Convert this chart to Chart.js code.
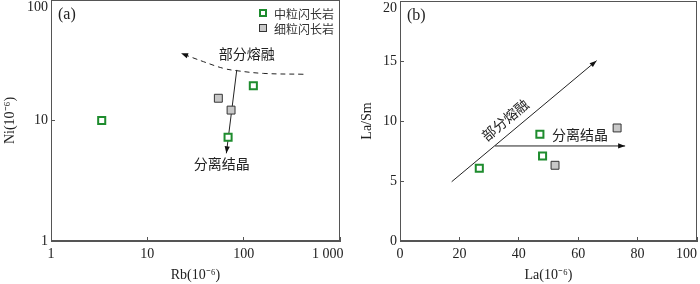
<!DOCTYPE html>
<html><head><meta charset="utf-8">
<script src="https://cdn.jsdelivr.net/npm/chart.js@4"></script>
<style>
html,body{margin:0;padding:0;background:#fff;}
#wrap{position:relative;width:700px;height:284px;overflow:hidden;background:#fff;}
canvas{position:absolute;top:0;}
#a{left:0;} #b{left:350px;}
.leg{position:absolute;left:259px;height:14px;display:flex;align-items:center;font:12px "Noto Sans CJK SC";color:#333;white-space:nowrap;}
.sw{width:8px;height:8px;box-sizing:border-box;margin-right:7px;}
</style></head>
<body>
<div id="wrap">
<canvas id="a" width="350" height="284"></canvas>
<canvas id="b" width="350" height="284"></canvas>
<div class="leg" style="top:6px"><div class="sw" style="border:2px solid #1e8c2e;background:#fff"></div>中粒闪长岩</div>
<div class="leg" style="top:21px"><div class="sw" style="border:1px solid #333;background:#c8c8c8"></div>细粒闪长岩</div>
</div>
<script>
// ---------- data ----------
const seriesNames = ['中粒闪长岩', '细粒闪长岩'];
// panel (a): Rb vs Ni (log-log)
const rbMedium = [3.36, 126, 68.9];
const niMedium = [10, 19.4, 7.26];
const rbFine = [54.6, 74];
const niFine = [15.3, 12.2];
const rbTicks = [1, 10, 100, 1000];
const rbTickLabels = ['1', '10', '100', '1 000'];
const niTicks = [1, 10, 100];
const niTickLabels = ['1', '10', '100'];
const pmCurveRb = [417, 160, 84.8, 61.5, 38.2, 22.4];
const pmCurveNi = [24.2, 24.6, 25.9, 27.1, 30.8, 36.1];
const fcLineRb = [84.8, 66.1];
const fcLineNi = [26.3, 5.34];
const textsA = ['部分熔融', '分离结晶'];
const textsARb = [107.7, 59.3];
const textsANi = [35.6, 4.41];
// panel (b): La vs La/Sm
const laMedium = [26.7, 47.1, 48.0];
const lasmMedium = [6.06, 8.89, 7.08];
const laFine = [52.2, 73.1];
const lasmFine = [6.31, 9.42];
const laTicks = [0, 20, 40, 60, 80, 100];
const lasmTicks = [0, 5, 10, 15, 20];
const pmLineLa = [17.4, 66.2];
const pmLineLaSm = [4.94, 15.03];
const fcLineLa = [32, 75.8];
const fcLineLaSm = [7.92, 7.92];
const textsB = ['部分熔融', '分离结晶'];
const textsBLa = [35.4, 60.6];
const textsBLaSm = [10.08, 8.83];

// ---------- helpers ----------
const pts = (xs, ys) => xs.map((x, i) => ({x, y: ys[i]}));
const SERIF = 'Liberation Serif';
const CJK = '"Noto Sans CJK SC"';
const AX = '#555';
const GREEN = '#1e8c2e';

function medium(xs, ys) {
  return {label: seriesNames[0], data: pts(xs, ys), pointStyle: 'rect', pointRadius: 5,
    pointBorderWidth: 2, borderColor: GREEN, backgroundColor: '#fff', showLine: false, order: 0};
}
function fine(xs, ys) {
  return {label: seriesNames[1], data: pts(xs, ys), pointStyle: 'rect', pointRadius: 5.6,
    pointBorderWidth: 1, borderColor: '#333', backgroundColor: '#c8c8c8', showLine: false, order: 0};
}
function trend(xs, ys, dashed, tension) {
  return {label: 'trend', data: pts(xs, ys), showLine: true, pointRadius: 0, borderColor: '#222',
    borderWidth: 1, borderDash: dashed ? [5, 4] : [], tension: tension || 0, arrow: true, order: 1, fill: false};
}

function overlay(panel, texts, xs, ys, rotateWith) {
  return {
    id: 'overlay' + panel,
    beforeDatasetsDraw(chart) {
      const {ctx, chartArea: a} = chart;
      ctx.save();
      ctx.strokeStyle = AX; ctx.lineWidth = 1;
      ctx.strokeRect(Math.round(a.left) + 0.5, Math.round(a.top) + 0.5,
        Math.round(a.right - a.left) - 1, Math.round(a.bottom - a.top) - 1);
      ctx.restore();
    },
    afterDatasetsDraw(chart) {
      const {ctx, chartArea: a, scales} = chart;
      ctx.save();
      // arrowheads
      chart.data.datasets.forEach((ds, i) => {
        if (!ds.arrow) return;
        const d = chart.getDatasetMeta(i).data;
        const p1 = d[d.length - 2], p2 = d[d.length - 1];
        const ang = Math.atan2(p2.y - p1.y, p2.x - p1.x);
        const L = 7, W = 2.6;
        ctx.fillStyle = '#111';
        ctx.beginPath();
        ctx.moveTo(p2.x, p2.y);
        ctx.lineTo(p2.x - L * Math.cos(ang) + W * Math.sin(ang), p2.y - L * Math.sin(ang) - W * Math.cos(ang));
        ctx.lineTo(p2.x - L * Math.cos(ang) - W * Math.sin(ang), p2.y - L * Math.sin(ang) + W * Math.cos(ang));
        ctx.closePath(); ctx.fill();
      });
      // text annotations
      ctx.fillStyle = '#222';
      ctx.font = '14px ' + CJK;
      ctx.textAlign = 'center'; ctx.textBaseline = 'middle';
      texts.forEach((t, i) => {
        const x = scales.x.getPixelForValue(xs[i]), y = scales.y.getPixelForValue(ys[i]);
        ctx.save();
        ctx.translate(x, y);
        if (rotateWith !== undefined && i === 0) {
          const d = chart.getDatasetMeta(rotateWith).data;
          ctx.rotate(Math.atan2(d[1].y - d[0].y, d[1].x - d[0].x));
        }
        ctx.fillText(t, 0, 0);
        ctx.restore();
      });
      // panel label
      ctx.font = '16px ' + SERIF;
      ctx.textAlign = 'left';
      ctx.fillText(panel, a.left + 7, a.top + 15);
      ctx.restore();
    }
  };
}

function axis(extra) {
  return Object.assign({
    grid: {drawOnChartArea: false, drawTicks: true, tickLength: -4, color: AX, lineWidth: 1},
    border: {display: true, color: AX, width: 1},
  }, extra);
}
function zeroPad(s) { s.paddingLeft = 0; s.paddingRight = 0; s.paddingTop = 0; s.paddingBottom = 0; }
const tickFont = {family: SERIF, size: 14, lineHeight: 1};
const titleFont = {family: SERIF, size: 14};
const NB = '\u00a0';

Chart.defaults.animation = false;

// ---------- chart (a) ----------
new Chart(document.getElementById('a'), {
  type: 'scatter',
  data: {datasets: [
    medium(rbMedium, niMedium),
    fine(rbFine, niFine),
    trend(pmCurveRb, pmCurveNi, true, 0.4),
    trend(fcLineRb, fcLineNi, false, 0),
  ]},
  options: {
    responsive: false, devicePixelRatio: 1, animation: false,
    layout: {autoPadding: false, padding: {left: 0, right: 10, top: 0, bottom: 0}},
    plugins: {legend: {display: false}, tooltip: {enabled: false}},
    scales: {
      x: axis({type: 'logarithmic', min: 1, max: 1000,
        afterBuildTicks: s => { s.ticks = rbTicks.map(v => ({value: v})); },
        ticks: {font: tickFont, color: '#222', padding: 10, maxRotation: 0, autoSkip: false,
          callback: (v, i, t) => {
            const lab = rbTickLabels[rbTicks.indexOf(v)];
            return i === t.length - 1 ? lab + NB.repeat(7) : lab;
          }},
        title: {display: true, text: 'Rb(10⁻⁶)', font: titleFont, color: '#222', padding: {top: 0, bottom: 0}},
        afterFit: s => { s.height = 43; zeroPad(s); }
      }),
      y: axis({type: 'logarithmic', min: 1, max: 100,
        afterBuildTicks: s => { s.ticks = niTicks.map(v => ({value: v})); },
        ticks: {font: tickFont, color: '#222', padding: 7, autoSkip: false,
          callback: (v, i, t) => {
            const lab = niTickLabels[niTicks.indexOf(v)];
            return i === t.length - 1 ? ['', lab] : lab;
          }},
        title: {display: true, text: 'Ni(10⁻⁶)', font: titleFont, color: '#222', padding: {top: 2, bottom: 0}},
        afterFit: s => { s.width = 51; zeroPad(s); }
      })
    }
  },
  plugins: [overlay('(a)', textsA, textsARb, textsANi)]
});

// ---------- chart (b) ----------
new Chart(document.getElementById('b'), {
  type: 'scatter',
  data: {datasets: [
    medium(laMedium, lasmMedium),
    fine(laFine, lasmFine),
    trend(pmLineLa, pmLineLaSm, false, 0),
    trend(fcLineLa, fcLineLaSm, false, 0),
  ]},
  options: {
    responsive: false, devicePixelRatio: 1, animation: false,
    layout: {autoPadding: false, padding: {left: 0, right: 3, top: 1, bottom: 0}},
    plugins: {legend: {display: false}, tooltip: {enabled: false}},
    scales: {
      x: axis({type: 'linear', min: 0, max: 100,
        afterBuildTicks: s => { s.ticks = laTicks.map(v => ({value: v})); },
        ticks: {font: tickFont, color: '#222', padding: 10, maxRotation: 0, autoSkip: false,
          callback: (v, i, t) => i === t.length - 1 ? String(v) + NB.repeat(6) : String(v)},
        title: {display: true, text: 'La(10⁻⁶)', font: titleFont, color: '#222', padding: {top: 0, bottom: 0}},
        afterFit: s => { s.height = 43; zeroPad(s); }
      }),
      y: axis({type: 'linear', min: 0, max: 20,
        afterBuildTicks: s => { s.ticks = lasmTicks.map(v => ({value: v})); },
        ticks: {font: tickFont, color: '#222', padding: 7, autoSkip: false,
          callback: (v, i, t) => i === t.length - 1 ? ['', String(v)] : String(v)},
        title: {display: true, text: 'La/Sm', font: titleFont, color: '#222', padding: {top: 9, bottom: 0}},
        afterFit: s => { s.width = 50; zeroPad(s); }
      })
    }
  },
  plugins: [overlay('(b)', textsB, textsBLa, textsBLaSm, 2)]
});
</script>
</body></html>
